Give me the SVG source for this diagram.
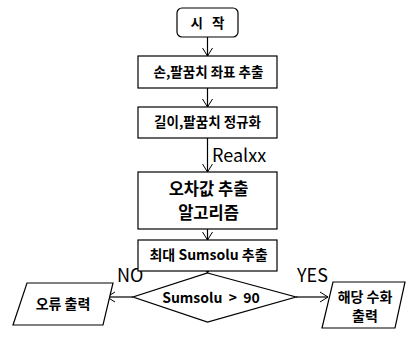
<svg xmlns="http://www.w3.org/2000/svg" width="411" height="340" viewBox="0 0 411 340">
<defs>
<marker id="arr" markerWidth="12" markerHeight="12" refX="10" refY="6" orient="auto" markerUnits="userSpaceOnUse">
<path d="M2,1 L10,6 L2,11" fill="none" stroke="#000" stroke-width="1"/>
</marker>
</defs>
<style>
.box{fill:#fff;stroke:#000;stroke-width:1.2}
.t{font-family:"Noto Sans CJK KR","Liberation Sans",sans-serif;font-size:13.5px;font-weight:bold;text-anchor:middle;fill:#000}
.big{font-size:16.5px}
.lbl{font-family:"Noto Sans CJK KR","Liberation Sans",sans-serif;font-size:18px;fill:#000}
.c{fill:none;stroke:#000;stroke-width:1.2;marker-end:url(#arr)}
</style>
<rect width="411" height="340" fill="#fff"/>
<g id="connectors">
<line class="c" x1="207.5" y1="37" x2="207.5" y2="56"/>
<line class="c" x1="207.5" y1="88" x2="207.5" y2="107"/>
<line class="c" x1="207.5" y1="138" x2="207.5" y2="172"/>
<line class="c" x1="207.5" y1="229" x2="207.5" y2="240"/>
<line class="c" x1="207.5" y1="271" x2="207.5" y2="273"/>
<line class="c" x1="133" y1="297" x2="107" y2="297"/>
<line class="c" x1="296" y1="297" x2="328" y2="297"/>
<text class="lbl" x="212" y="162">Realxx</text>
<text class="lbl" x="117" y="282">NO</text>
<text class="lbl" x="297" y="282">YES</text>
</g>
<g id="start">
<rect class="box" x="177" y="8" width="61" height="29" rx="5"/>
<text class="t" x="209" y="28" style="letter-spacing:3px">시 작</text>
</g>
<g id="extract">
<rect class="box" x="138" y="56" width="139" height="32"/>
<text class="t" x="208.5" y="77">손,팔꿈치 좌표 추출</text>
</g>
<g id="normalize">
<rect class="box" x="138" y="107" width="139" height="31"/>
<text class="t" x="207.5" y="127">길이,팔꿈치 정규화</text>
</g>
<g id="algorithm">
<rect class="box" x="138" y="172" width="139" height="57"/>
<text class="t big" x="208.5" y="195">오차값 추출</text>
<text class="t big" x="208.5" y="219">알고리즘</text>
</g>
<g id="max">
<rect class="box" x="138" y="240" width="139" height="31"/>
<text class="t" x="208.5" y="260" style="font-size:14px">최대 Sumsolu 추출</text>
</g>
<g id="decision">
<polygon class="box" points="207.5,273 296,297 207.5,322 133,297"/>
<text class="t" x="211" y="303" style="font-size:14px" xml:space="preserve">Sumsolu  &gt;  90</text>
</g>
<g id="error">
<polygon class="box" points="27,283 113,283 103,325 13,325"/>
<text class="t" x="63" y="309" style="font-size:14px">오류 출력</text>
</g>
<g id="output">
<polygon class="box" points="333,282 405,282 395,328 322,328"/>
<text class="t" x="365" y="302" style="font-size:14px">해당 수화</text>
<text class="t" x="365" y="321" style="font-size:14px">출력</text>
</g>
</svg>
